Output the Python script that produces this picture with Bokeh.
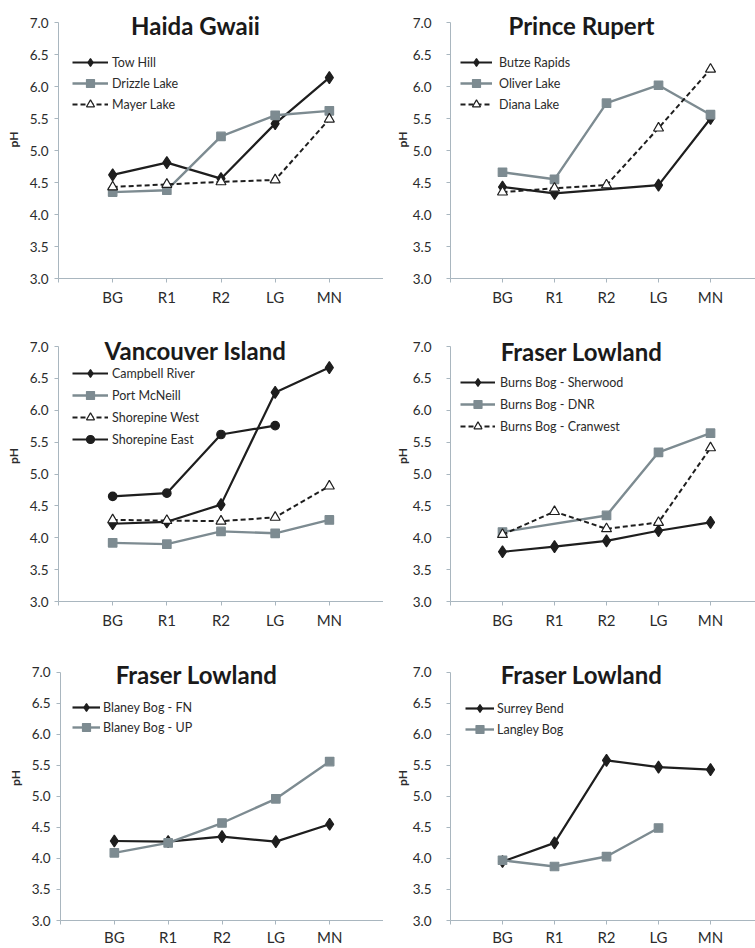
import math
import json
from bokeh.plotting import figure
from bokeh.layouts import column, row
from bokeh.models import (FixedTicker, CustomJSTickFormatter, PrintfTickFormatter,
                          Legend, LegendItem, Label, Range1d)
from bokeh.embed import file_html
from bokeh.resources import INLINE

nan = float("nan")

# ---------------- data ----------------
stations = ["BG", "R1", "R2", "LG", "MN"]
station_pos = [1, 2, 3, 4, 5]
y_ticks = [3.0, 3.5, 4.0, 4.5, 5.0, 5.5, 6.0, 6.5, 7.0]

titles = ["Haida Gwaii", "Prince Rupert", "Vancouver Island",
          "Fraser Lowland", "Fraser Lowland", "Fraser Lowland"]

tow_hill = [4.62, 4.81, 4.56, 5.42, 6.14]
drizzle_lake = [4.35, 4.38, 5.22, 5.55, 5.62]
mayer_lake = [4.43, 4.47, 4.51, 4.54, 5.49]

butze_rapids = [4.43, 4.33, nan, 4.46, 5.50]
oliver_lake = [4.66, 4.55, 5.74, 6.02, 5.56]
diana_lake = [4.35, 4.41, 4.46, 5.35, 6.27]

campbell_river = [4.22, 4.25, 4.52, 6.28, 6.67]
port_mcneill = [3.92, 3.90, 4.10, 4.07, 4.28]
shorepine_west = [4.28, 4.27, 4.26, 4.32, 4.81]
shorepine_east = [4.65, 4.70, 5.62, 5.76, nan]

burns_sherwood = [3.78, 3.86, 3.95, 4.11, 4.24]
burns_dnr = [4.09, nan, 4.35, 5.34, 5.64]
burns_cranwest = [4.05, 4.41, 4.14, 4.24, 5.41]

blaney_fn = [4.28, 4.27, 4.35, 4.27, 4.55]
blaney_up = [4.09, 4.25, 4.57, 4.96, 5.56]

surrey_bend = [3.95, 4.25, 5.58, 5.47, 5.43]
langley_bog = [3.97, 3.87, 4.03, 4.49, nan]

panel_series = [
    [("Tow Hill", tow_hill, "diamond"), ("Drizzle Lake", drizzle_lake, "square"),
     ("Mayer Lake", mayer_lake, "triangle")],
    [("Butze Rapids", butze_rapids, "diamond"), ("Oliver Lake", oliver_lake, "square"),
     ("Diana Lake", diana_lake, "triangle")],
    [("Campbell River", campbell_river, "diamond"), ("Port McNeill", port_mcneill, "square"),
     ("Shorepine West", shorepine_west, "triangle"), ("Shorepine East", shorepine_east, "circle")],
    [("Burns Bog - Sherwood", burns_sherwood, "diamond"), ("Burns Bog - DNR", burns_dnr, "square"),
     ("Burns Bog - Cranwest", burns_cranwest, "triangle")],
    [("Blaney Bog - FN", blaney_fn, "diamond"), ("Blaney Bog - UP", blaney_up, "square")],
    [("Surrey Bend", surrey_bend, "diamond"), ("Langley Bog", langley_bog, "square")],
]

# ---------------- styles ----------------
BLACK = "#1e1e1e"
GRAY = "#7d8b91"
AXIS = "#a9b6bf"
TXT = "#2b2b2b"
FONT = "Lato"

STYLES = {
    "diamond": dict(color=BLACK, lw=2.2, dash="solid", marker="diamond", size=12,
                    fill=BLACK, mline=BLACK),
    "square": dict(color=GRAY, lw=2.4, dash="solid", marker="square", size=8.5,
                   fill=GRAY, mline=GRAY),
    "triangle": dict(color=BLACK, lw=2.0, dash="5 3", marker="triangle", size=10,
                     fill="white", mline=BLACK),
    "circle": dict(color=BLACK, lw=2.2, dash="solid", marker="circle", size=8.5,
                   fill=BLACK, mline=BLACK),
}

GEO = [
    dict(w=383, h=310, bl=58, bb=32, xend=6.0, ytop=7.344, tx=137, ty=253,
         lx=14, ly=164, gw=36, so=4, sp=1, tls=6, als=6, xls=5),
    dict(w=372, h=310, bl=67, bb=32, xend=5.865, ytop=7.344, tx=131, ty=253,
         lx=10, ly=164, gw=32, so=7, sp=1, tls=15, als=0, xls=5),
    dict(w=383, h=325, bl=58, bb=34, xend=6.0, ytop=7.565, tx=137, ty=251,
         lx=14, ly=152, gw=36, so=4, sp=2, tls=6, als=6, xls=5),
    dict(w=372, h=325, bl=67, bb=34, xend=5.865, ytop=7.565, tx=131, ty=250,
         lx=10, ly=165, gw=35, so=5, sp=2, tls=15, als=0, xls=5),
    dict(w=383, h=313, bl=60, bb=25, xend=6.0, ytop=7.59, tx=136, ty=246,
         lx=12, ly=183, gw=28, so=3, sp=0, tls=6, als=6, xls=3),
    dict(w=372, h=313, bl=67, bb=25, xend=5.865, ytop=7.59, tx=131, ty=246,
         lx=15, ly=181, gw=29, so=3, sp=1, tls=15, als=0, xls=3),
]

label_map = json.dumps({str(p): s for p, s in zip(station_pos, stations)})


def make_panel(title, series, g):
    p = figure(width=g["w"], height=g["h"],
               x_range=Range1d(0, g["xend"]), y_range=Range1d(3, g["ytop"]),
               output_backend="svg", toolbar_location=None,
               min_border_left=g["bl"], min_border_right=0,
               min_border_top=0, min_border_bottom=g["bb"])
    p.outline_line_color = None
    p.grid.visible = False
    p.background_fill_color = "white"
    p.border_fill_color = "white"

    items = []
    for name, vals, style in series:
        st = STYLES[style]
        xs = [x for x, v in zip(station_pos, vals) if not math.isnan(v)]
        ys = [v for v in vals if not math.isnan(v)]
        r1 = p.line(xs, ys, line_color=st["color"], line_width=st["lw"],
                    line_dash=st["dash"])
        r2 = p.scatter(xs, ys, marker=st["marker"], size=st["size"],
                       fill_color=st["fill"], line_color=st["mline"], line_width=1.2)
        items.append(LegendItem(label=name, renderers=[r1, r2]))

    xax = p.xaxis[0]
    xax.ticker = FixedTicker(ticks=[0, 1, 2, 3, 4, 5, 6])
    xax.formatter = CustomJSTickFormatter(
        code="const labels = %s; return labels[String(tick)] || '';" % label_map)
    xax.bounds = (0, 6)
    yax = p.yaxis[0]
    yax.ticker = FixedTicker(ticks=y_ticks)
    yax.formatter = PrintfTickFormatter(format="%.1f")
    yax.bounds = (3, 7)
    for ax in (xax, yax):
        ax.axis_line_color = AXIS
        ax.axis_line_width = 1
        ax.major_tick_line_color = AXIS
        ax.major_tick_in = 0
        ax.major_tick_out = 4
        ax.minor_tick_line_color = None
        ax.major_label_text_font = FONT
        ax.major_label_text_color = TXT
    xax.major_label_text_font_size = "15px"
    yax.major_label_text_font_size = "13.5px"
    xax.major_label_standoff = g["xls"]
    yax.major_label_standoff = g["tls"]
    yax.axis_label = "pH"
    yax.axis_label_text_font = FONT
    yax.axis_label_text_font_style = "bold"
    yax.axis_label_text_font_size = "12px"
    yax.axis_label_text_color = TXT
    yax.axis_label_standoff = g["als"]

    legend = Legend(items=items, location=(g["lx"], g["ly"]))
    legend.margin = 0
    legend.padding = 0
    legend.border_line_color = None
    legend.background_fill_alpha = 0
    legend.glyph_width = g["gw"]
    legend.glyph_height = 20
    legend.label_height = 20
    legend.label_standoff = g["so"]
    legend.spacing = g["sp"]
    legend.label_text_font = FONT
    legend.label_text_font_size = "12.5px"
    legend.label_text_color = TXT
    p.add_layout(legend, "center")

    p.add_layout(Label(x=g["tx"], y=g["ty"], x_units="screen", y_units="screen",
                       text=title, text_align="center", text_baseline="alphabetic",
                       text_font=FONT, text_font_style="bold", text_font_size="24px",
                       text_color="#1a1a1a"))
    return p


panels = [make_panel(titles[i], panel_series[i], GEO[i]) for i in range(6)]

layout = column(row(panels[0], panels[1]), row(panels[2], panels[3]),
                row(panels[4], panels[5]))

open("out.html", "w").write(file_html(layout, INLINE))
